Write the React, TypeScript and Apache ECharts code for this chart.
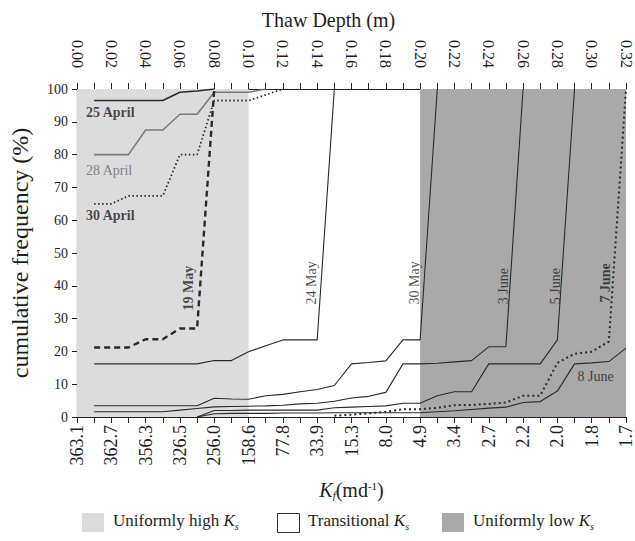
import React, { useEffect, useRef } from "react";
import * as echarts from "echarts";

// ---------- data ----------
const depths = [0.01, 0.02, 0.03, 0.04, 0.05, 0.06, 0.07, 0.08, 0.09, 0.10, 0.11, 0.12, 0.13, 0.14, 0.15, 0.16,
  0.17, 0.18, 0.19, 0.20, 0.21, 0.22, 0.23, 0.24, 0.25, 0.26, 0.27, 0.28, 0.29, 0.30, 0.31, 0.32];

const depthTickLabels = ["0.00", "0.02", "0.04", "0.06", "0.08", "0.10", "0.12", "0.14", "0.16", "0.18", "0.20",
  "0.22", "0.24", "0.26", "0.28", "0.30", "0.32"];
const kfTickLabels = ["363.1", "362.7", "356.3", "326.5", "256.0", "158.6", "77.8", "33.9", "15.3", "8.0", "4.9",
  "3.4", "2.7", "2.2", "2.0", "1.8", "1.7"];

const N = null;
const april25 = [96.5, 96.5, 96.5, 96.5, 96.5, 99, 99.4, 100, N, N, N, N, N, N, N, N, N, N, N, N, N, N, N, N, N, N, N, N, N, N, N, N];
const april28 = [80, 80, 80, 87.5, 87.5, 92.3, 92.3, 99, 99, 99, 100, N, N, N, N, N, N, N, N, N, N, N, N, N, N, N, N, N, N, N, N, N];
const april30 = [65, 65, 67.4, 67.4, 67.4, 80, 80, 96.5, 96.5, 96.5, 98.2, 100, N, N, N, N, N, N, N, N, N, N, N, N, N, N, N, N, N, N, N, N];
const may19 = [21.2, 21.2, 21.2, 23.7, 23.7, 27, 27, 100, N, N, N, N, N, N, N, N, N, N, N, N, N, N, N, N, N, N, N, N, N, N, N, N];
const may24 = [16.2, 16.2, 16.2, 16.2, 16.2, 16.2, 16.2, 17.2, 17.2, 19.9, 21.7, 23.5, 23.5, 23.5, 100, N, N, N, N, N, N, N, N, N, N, N, N, N, N, N, N, N];
const may30 = [3.45, 3.45, 3.45, 3.45, 3.45, 3.45, 3.45, 5.7, 5.5, 5.4, 6.5, 6.9, 7.7, 8.4, 9.6, 16.2, 16.6, 17.1, 23.5, 23.5, 100, N, N, N, N, N, N, N, N, N, N, N];
const june3 = [1.6, 1.6, 1.6, 1.6, 1.6, 2.1, 2.6, 3.1, 3.2, 3.3, 3.4, 3.6, 4.0, 4.2, 4.8, 5.8, 6.3, 7.5, 16.2, 16.2, 16.4, 16.8, 17.2, 21.4, 21.4, 100, N, N, N, N, N, N];
const june5 = [N, N, N, N, N, N, 0, 2.0, 2.0, 2.1, 2.1, 2.1, 2.1, 2.1, 2.8, 3.0, 3.2, 3.4, 4.2, 4.2, 6.5, 7.7, 7.7, 16.2, 16.2, 16.2, 16.2, 23.5, 100, N, N, N];
const june7 = [N, N, N, N, N, N, N, N, N, N, N, N, N, N, 0.4, 0.7, 1.1, 1.6, 2.4, 2.4, 2.8, 3.6, 3.7, 4.0, 4.4, 6.5, 6.5, 16.5, 19.3, 19.9, 23.0, 100];
const june8 = [N, N, N, N, N, N, 0, 1.0, 1.1, 1.1, 1.1, 1.2, 1.2, 1.2, 1.3, 1.3, 1.3, 1.3, 1.3, 1.3, 1.6, 1.9, 2.3, 2.7, 3.0, 4.4, 4.7, 7.9, 16.2, 16.5, 16.9, 21.0];

const regionHigh = [0, 0.10];
const regionLow = [0.20, 0.32];

// ---------- styles ----------
const FONT = "Liberation Serif";
const INK = "#1e1e1e";

const seriesDefs = [
  { name: "25 April", values: april25, color: "#2a2a2a", width: 1.6, type: "solid" },
  { name: "28 April", values: april28, color: "#7a7a7a", width: 1.6, type: "solid" },
  { name: "30 April", values: april30, color: "#2a2a2a", width: 1.8, type: [1.5, 2.5] },
  { name: "19 May", values: may19, color: "#2a2a2a", width: 2.4, type: [6, 4] },
  { name: "24 May", values: may24, color: "#2a2a2a", width: 1.1, type: "solid" },
  { name: "30 May", values: may30, color: "#2a2a2a", width: 1.1, type: "solid" },
  { name: "3 June", values: june3, color: "#2a2a2a", width: 1.1, type: "solid" },
  { name: "5 June", values: june5, color: "#2a2a2a", width: 1.1, type: "solid" },
  { name: "7 June", values: june7, color: "#2a2a2a", width: 2, type: [2, 3] },
  { name: "8 June", values: june8, color: "#2a2a2a", width: 1.1, type: "solid" },
];

// label anchors in data units (thaw depth, %)
const annotations = [
  { text: "25 April", at: [0.0052, 92.7], rotate: 0, bold: true, align: "left", color: INK },
  { text: "28 April", at: [0.0052, 75.3], rotate: 0, bold: false, align: "left", color: "#666" },
  { text: "30 April", at: [0.0052, 61.3], rotate: 0, bold: true, align: "left", color: INK },
  { text: "19 May", at: [0.0651, 39.3], rotate: 90, bold: true, align: "center", color: INK },
  { text: "24 May", at: [0.1366, 40.9], rotate: 90, bold: false, align: "center", color: INK },
  { text: "30 May", at: [0.1965, 40.9], rotate: 90, bold: false, align: "center", color: INK },
  { text: "3 June", at: [0.2488, 39.9], rotate: 90, bold: false, align: "center", color: INK },
  { text: "5 June", at: [0.279, 39.9], rotate: 90, bold: false, align: "center", color: INK },
  { text: "7 June", at: [0.3081, 40.9], rotate: 90, bold: true, align: "center", color: INK },
  { text: "8 June", at: [0.3023, 12.5], rotate: 0, bold: false, align: "center", color: INK },
];

const legendItems = [
  { label: "Uniformly high ", fill: "#dcdcdc", stroke: null },
  { label: "Transitional ", fill: "#ffffff", stroke: "#333" },
  { label: "Uniformly low ", fill: "#a9a9a9", stroke: null },
];

export default function App() {
  const ref = useRef<HTMLDivElement>(null);

  useEffect(() => {
    if (!ref.current) return;
    const chart = echarts.init(ref.current, undefined, { renderer: "svg" });

    const lineSeries = seriesDefs.map((s) => ({
      name: s.name,
      type: "line",
      z: 3,
      symbol: "none",
      connectNulls: false,
      silent: true,
      data: depths.map((d, i) => (s.values[i] === null ? [d, null] : [d, s.values[i]])),
      lineStyle: { color: s.color, width: s.width, type: s.type, cap: "butt" },
    }));

    const regionSeries = {
      name: "regions",
      type: "line",
      z: 1,
      data: [],
      silent: true,
      markArea: {
        silent: true,
        data: [
          [{ xAxis: regionHigh[0], itemStyle: { color: "#dcdcdc" } }, { xAxis: regionHigh[1] }],
          [{ xAxis: regionLow[0], itemStyle: { color: "#a9a9a9" } }, { xAxis: regionLow[1] }],
        ],
      },
    };

    const labelSeries = {
      name: "labels",
      type: "scatter",
      z: 4,
      silent: true,
      symbolSize: 1,
      itemStyle: { color: "rgba(0,0,0,0)" },
      data: annotations.map((a) => ({
        value: a.at,
        label: {
          show: true,
          formatter: a.text,
          position: "inside",
          rotate: a.rotate,
          align: a.align,
          verticalAlign: "middle",
          fontFamily: FONT,
          fontSize: 14,
          fontWeight: a.bold ? "bold" : "normal",
          color: a.color,
        },
      })),
    };

    const axisCommon = {
      type: "value",
      min: 0,
      max: 0.32,
      interval: 0.02,
      splitLine: { show: false },
      axisLine: { show: true, lineStyle: { color: "#222", width: 1.2 } },
      axisTick: { show: true, inside: false, length: 6, lineStyle: { color: "#222" } },
      minorTick: { show: true, splitNumber: 2, length: 6, lineStyle: { color: "#222" } },
    };

    const legendGraphics: any[] = [];
    const legendX = [82, 277, 442];
    legendItems.forEach((it, i) => {
      legendGraphics.push({
        type: "rect",
        left: legendX[i],
        top: 513,
        shape: { width: 22, height: 19 },
        style: { fill: it.fill, stroke: it.stroke || it.fill, lineWidth: it.stroke ? 1 : 0 },
      });
      legendGraphics.push({
        type: "text",
        left: legendX[i] + 31,
        top: 511,
        style: {
          text: `{a|${it.label}}{k|K}{s|s}`,
          rich: {
            a: { fontFamily: FONT, fontSize: 17, fill: INK, lineHeight: 22 },
            k: { fontFamily: FONT, fontSize: 17, fontStyle: "italic", fill: INK, lineHeight: 22 },
            s: { fontFamily: FONT, fontSize: 10, fontStyle: "italic", fill: INK, lineHeight: 22, verticalAlign: "bottom", padding: [10, 0, 0, 0] },
          },
        },
      });
    });

    chart.setOption({
      animation: false,
      backgroundColor: "#ffffff",
      grid: { left: 77, right: 7, top: 89, bottom: 124, containLabel: false },
      xAxis: [
        {
          ...axisCommon,
          position: "bottom",
          name: "{k|K}{f|f}{t|(md}{sup|-1}{t|)}",
          nameLocation: "middle",
          nameGap: 63,
          nameTextStyle: {
            rich: {
              k: { fontFamily: FONT, fontSize: 20, fontStyle: "italic", color: INK },
              f: { fontFamily: FONT, fontSize: 11, fontStyle: "italic", color: INK, verticalAlign: "bottom", padding: [9, 0, 0, 0] },
              t: { fontFamily: FONT, fontSize: 20, color: INK },
              sup: { fontFamily: FONT, fontSize: 11, color: INK, verticalAlign: "top", padding: [0, 0, 9, 0] },
            },
          },
          axisLabel: {
            rotate: 90,
            margin: 8,
            fontFamily: FONT,
            fontSize: 18,
            color: INK,
            formatter: (v: number) => kfTickLabels[Math.round(v / 0.02)] ?? "",
          },
        },
        {
          ...axisCommon,
          position: "top",
          name: "Thaw Depth (m)",
          nameLocation: "middle",
          nameGap: 59,
          nameTextStyle: { fontFamily: FONT, fontSize: 20, color: INK, padding: [0, 46, 0, 0] },
          axisLabel: {
            rotate: 90,
            margin: 21,
            fontFamily: FONT,
            fontSize: 16,
            color: INK,
            formatter: (v: number) => depthTickLabels[Math.round(v / 0.02)] ?? "",
          },
        },
      ],
      yAxis: {
        type: "value",
        min: 0,
        max: 100,
        interval: 10,
        name: "cumulative frequency (%)",
        nameLocation: "middle",
        nameGap: 45,
        nameTextStyle: { fontFamily: FONT, fontSize: 24, color: INK },
        splitLine: { show: false },
        axisLine: { show: true, lineStyle: { color: "#222", width: 1.2 } },
        axisTick: { show: true, inside: false, length: 5, lineStyle: { color: "#222" } },
        axisLabel: { fontFamily: FONT, fontSize: 14, color: INK, margin: 9 },
      },
      series: [regionSeries, ...lineSeries, labelSeries],
      graphic: legendGraphics,
    });

    return () => chart.dispose();
  }, []);

  return (
    <div
      ref={ref}
      style={{ position: "fixed", left: 0, top: 0, width: 635, height: 541, background: "#fff" }}
    />
  );
}
